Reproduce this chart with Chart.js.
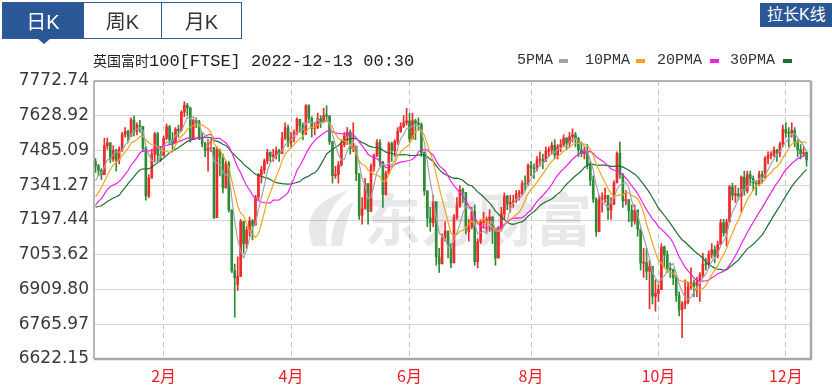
<!DOCTYPE html>
<html>
<head>
<meta charset="utf-8">
<script src="https://cdn.jsdelivr.net/npm/chart.js@4/dist/chart.umd.min.js"></script>
<style>
body { margin: 0; background: #fff; }
#wrap { position: relative; width: 832px; height: 392px; overflow: hidden; background: #fff; }
#c { position: absolute; left: 0; top: 0; }
.tabs { position: absolute; left: 2px; top: 2px; width: 240px; height: 37px; box-sizing: border-box;
  border: 1px solid #2f5b9e; display: flex; font: 20px "Liberation Sans", "Noto Sans CJK SC", sans-serif; }
.tab { display: flex; align-items: center; justify-content: center; color: #333; box-sizing: border-box; }
.tab.on { background: #2b5797; color: #fff; }
.tab + .tab { border-left: 1px solid #2f5b9e; }
.arrow { position: absolute; left: 37px; top: 38px; width: 0; height: 0;
  border-left: 7px solid transparent; border-right: 7px solid transparent; border-top: 6px solid #2b5797; }
.stretch { position: absolute; left: 760px; top: 3px; width: 80px; height: 24px; background: #2b5797; color: #fff;
  font: 16px "Liberation Sans", "Noto Sans CJK SC", sans-serif; line-height: 24px; padding-left: 7px; box-sizing: border-box; }
.title { position: absolute; left: 93px; top: 50px; line-height: 20px; color: #222; white-space: nowrap; }
.title .cn { font: 14px "Noto Sans CJK SC", sans-serif; }
.title .en { font: 17px "Liberation Mono", monospace; }
.lg { position: absolute; top: 52px; font: 15px "Liberation Mono", monospace; color: #333; line-height: 18px; white-space: nowrap; }
.sw { position: absolute; top: 59px; width: 9px; height: 4px; }
</style>
</head>
<body>
<div id="wrap">
  <canvas id="c" width="832" height="392"></canvas>
  <div class="tabs">
    <div class="tab on" style="width:80px">日K</div>
    <div class="tab" style="width:78px">周K</div>
    <div class="tab" style="width:80px">月K</div>
  </div>
  <div class="arrow"></div>
  <div class="stretch">拉长K线</div>
  <div class="title"><span class="cn">英国富时</span><span class="en">100[FTSE] 2022-12-13 00:30</span></div>
  <div id="legend"></div>
</div>
<script>
// trading days shown on the x axis (last slot has no candle yet)
const dates = [
  '2021-12-29','2021-12-30','2021-12-31',
  '2022-01-04','2022-01-05','2022-01-06','2022-01-07','2022-01-10','2022-01-11','2022-01-12','2022-01-13','2022-01-14','2022-01-17',
  '2022-01-18','2022-01-19','2022-01-20','2022-01-21','2022-01-24','2022-01-25','2022-01-26','2022-01-27','2022-01-28','2022-01-31',
  '2022-02-01','2022-02-02','2022-02-03','2022-02-04','2022-02-07','2022-02-08','2022-02-09','2022-02-10','2022-02-11','2022-02-14',
  '2022-02-15','2022-02-16','2022-02-17','2022-02-18','2022-02-21','2022-02-22','2022-02-23','2022-02-24','2022-02-25','2022-02-28',
  '2022-03-01','2022-03-02','2022-03-03','2022-03-04','2022-03-07','2022-03-08','2022-03-09','2022-03-10','2022-03-11','2022-03-14',
  '2022-03-15','2022-03-16','2022-03-17','2022-03-18','2022-03-21','2022-03-22','2022-03-23','2022-03-24','2022-03-25','2022-03-28',
  '2022-03-29','2022-03-30','2022-03-31',
  '2022-04-01','2022-04-04','2022-04-05','2022-04-06','2022-04-07','2022-04-08','2022-04-11','2022-04-12','2022-04-13','2022-04-14',
  '2022-04-19','2022-04-20','2022-04-21','2022-04-22','2022-04-25','2022-04-26','2022-04-27','2022-04-28','2022-04-29',
  '2022-05-03','2022-05-04','2022-05-05','2022-05-06','2022-05-09','2022-05-10','2022-05-11','2022-05-12','2022-05-13','2022-05-16',
  '2022-05-17','2022-05-18','2022-05-19','2022-05-20','2022-05-23','2022-05-24','2022-05-25','2022-05-26','2022-05-27','2022-05-30','2022-05-31',
  '2022-06-01','2022-06-06','2022-06-07','2022-06-08','2022-06-09','2022-06-10','2022-06-13','2022-06-14','2022-06-15','2022-06-16',
  '2022-06-17','2022-06-20','2022-06-21','2022-06-22','2022-06-23','2022-06-24','2022-06-27','2022-06-28','2022-06-29','2022-06-30',
  '2022-07-01','2022-07-04','2022-07-05','2022-07-06','2022-07-07','2022-07-08','2022-07-11','2022-07-12','2022-07-13','2022-07-14',
  '2022-07-15','2022-07-18','2022-07-19','2022-07-20','2022-07-21','2022-07-22','2022-07-25','2022-07-26','2022-07-27','2022-07-28','2022-07-29',
  '2022-08-01','2022-08-02','2022-08-03','2022-08-04','2022-08-05','2022-08-08','2022-08-09','2022-08-10','2022-08-11','2022-08-12',
  '2022-08-15','2022-08-16','2022-08-17','2022-08-18','2022-08-19','2022-08-22','2022-08-23','2022-08-24','2022-08-25','2022-08-26',
  '2022-08-30','2022-08-31',
  '2022-09-01','2022-09-02','2022-09-05','2022-09-06','2022-09-07','2022-09-08','2022-09-09','2022-09-12','2022-09-13','2022-09-14',
  '2022-09-15','2022-09-16','2022-09-20','2022-09-21','2022-09-22','2022-09-23','2022-09-26','2022-09-27','2022-09-28','2022-09-29','2022-09-30',
  '2022-10-03','2022-10-04','2022-10-05','2022-10-06','2022-10-07','2022-10-10','2022-10-11','2022-10-12','2022-10-13','2022-10-14',
  '2022-10-17','2022-10-18','2022-10-19','2022-10-20','2022-10-21','2022-10-24','2022-10-25','2022-10-26','2022-10-27','2022-10-28','2022-10-31',
  '2022-11-01','2022-11-02','2022-11-03','2022-11-04','2022-11-07','2022-11-08','2022-11-09','2022-11-10','2022-11-11','2022-11-14',
  '2022-11-15','2022-11-16','2022-11-17','2022-11-18','2022-11-21','2022-11-22','2022-11-23','2022-11-24','2022-11-25','2022-11-28',
  '2022-11-29','2022-11-30',
  '2022-12-01','2022-12-02','2022-12-05','2022-12-06','2022-12-07','2022-12-08','2022-12-09','2022-12-12','2022-12-13'
];

const open = [
  7440, 7421, 7403,
  7385, 7505, 7517, 7450, 7485, 7445, 7491, 7552, 7564, 7543, 7611, 7564, 7590, 7585, 7494, 7297, 7371, 7470, 7554, 7466,
  7464, 7536, 7583, 7529, 7516, 7573, 7567, 7643, 7672, 7661, 7532, 7609, 7604, 7537, 7514, 7484, 7494, 7498, 7207, 7489,
  7458, 7330, 7430, 7239, 6987, 6930, 6964, 7191, 7099, 7156, 7193, 7176, 7292, 7385, 7405, 7442, 7477, 7461, 7467, 7483, 7473, 7537, 7579,
  7516, 7538, 7559, 7614, 7588, 7552, 7670, 7618, 7577, 7581, 7616, 7601, 7629, 7628, 7522, 7381, 7386, 7426, 7509,
  7545, 7561, 7493, 7503, 7388, 7217, 7243, 7348, 7233, 7418, 7465, 7518, 7438, 7303, 7390, 7513, 7484, 7523, 7565, 7585, 7600,
  7608, 7533, 7608, 7599, 7593, 7476, 7318, 7206, 7187, 7273, 7045, 7016, 7122, 7152, 7089, 7020, 7209, 7258, 7323, 7312,
  7150, 7169, 7233, 7025, 7108, 7189, 7196, 7197, 7210, 7156, 7040, 7159, 7223, 7296, 7264, 7271, 7276, 7306, 7306, 7348, 7345,
  7423, 7413, 7409, 7446, 7448, 7440, 7482, 7488, 7507, 7466, 7501, 7509, 7536, 7516, 7542, 7550, 7534, 7488, 7472, 7480, 7427, 7362,
  7284, 7149, 7281, 7287, 7300, 7238, 7262, 7351, 7473, 7386, 7277, 7282, 7237, 7193, 7238, 7160, 7019, 7021, 6985, 7005, 6882,
  6894, 6909, 7086, 7053, 6997, 6991, 6959, 6885, 6826, 6850, 6859, 6920, 6937, 6925, 6944, 6970, 7014, 7013, 7056, 7074, 7048,
  7095, 7186, 7144, 7189, 7335, 7300, 7306, 7296, 7375, 7318, 7385, 7369, 7351, 7347, 7386, 7377, 7453, 7465, 7467, 7487, 7474, 7512,
  7573, 7558, 7556, 7568, 7521, 7489, 7472, 7477
];
const high = [
  7452, 7428, 7410,
  7536, 7537, 7517, 7505, 7490, 7500, 7560, 7580, 7570, 7620, 7628, 7600, 7610, 7585, 7500, 7385, 7490, 7560, 7560, 7500,
  7545, 7595, 7590, 7560, 7580, 7590, 7650, 7687, 7680, 7665, 7615, 7620, 7610, 7560, 7520, 7530, 7530, 7498, 7500, 7490,
  7470, 7440, 7440, 7240, 7015, 7045, 7200, 7191, 7170, 7210, 7200, 7300, 7390, 7420, 7450, 7490, 7480, 7490, 7500, 7490, 7560, 7600, 7590,
  7560, 7570, 7620, 7614, 7600, 7675, 7675, 7625, 7600, 7640, 7630, 7660, 7670, 7630, 7522, 7420, 7440, 7530, 7560,
  7580, 7570, 7600, 7503, 7390, 7290, 7370, 7348, 7430, 7470, 7530, 7530, 7440, 7400, 7520, 7520, 7530, 7580, 7600, 7630, 7660,
  7640, 7640, 7615, 7620, 7600, 7480, 7318, 7250, 7300, 7273, 7080, 7140, 7190, 7152, 7100, 7220, 7290, 7340, 7330, 7312,
  7200, 7250, 7260, 7120, 7200, 7230, 7210, 7240, 7210, 7160, 7170, 7250, 7310, 7300, 7300, 7300, 7320, 7320, 7360, 7380, 7430,
  7440, 7430, 7460, 7480, 7470, 7500, 7500, 7520, 7530, 7510, 7530, 7550, 7540, 7560, 7575, 7560, 7540, 7520, 7500, 7510, 7440, 7380,
  7290, 7300, 7310, 7330, 7300, 7290, 7360, 7480, 7520, 7390, 7320, 7282, 7260, 7260, 7240, 7160, 7080, 7080, 7030, 7005, 6950,
  6930, 7100, 7090, 7070, 7020, 6995, 6970, 6900, 6860, 6950, 6940, 7000, 6950, 6960, 6980, 7060, 7040, 7070, 7100, 7090, 7110,
  7200, 7200, 7200, 7340, 7350, 7340, 7330, 7380, 7400, 7400, 7400, 7380, 7360, 7400, 7400, 7460, 7480, 7480, 7500, 7490, 7520, 7590,
  7600, 7580, 7600, 7580, 7530, 7510, 7500, 7480
];
const low = [
  7395, 7380, 7365,
  7385, 7490, 7435, 7440, 7400, 7430, 7480, 7540, 7520, 7543, 7545, 7550, 7560, 7480, 7280, 7290, 7371, 7440, 7440, 7440,
  7464, 7530, 7510, 7490, 7516, 7540, 7567, 7625, 7630, 7520, 7532, 7580, 7530, 7500, 7460, 7400, 7480, 7203, 7207, 7380,
  7310, 7330, 7230, 6980, 6795, 6906, 6964, 7060, 7080, 7130, 7115, 7176, 7280, 7350, 7390, 7430, 7440, 7440, 7450, 7440, 7473, 7530, 7500,
  7500, 7520, 7550, 7560, 7530, 7552, 7600, 7540, 7550, 7575, 7580, 7600, 7610, 7510, 7350, 7370, 7350, 7420, 7500,
  7510, 7470, 7480, 7360, 7200, 7180, 7243, 7180, 7233, 7400, 7460, 7420, 7250, 7300, 7390, 7440, 7460, 7510, 7560, 7580, 7590,
  7520, 7533, 7530, 7570, 7460, 7300, 7170, 7150, 7170, 7010, 6980, 7016, 7110, 7040, 7000, 7020, 7200, 7250, 7270, 7140,
  7110, 7160, 7010, 7000, 7100, 7170, 7140, 7150, 7100, 7010, 7040, 7159, 7200, 7240, 7230, 7250, 7270, 7280, 7300, 7320, 7340,
  7380, 7370, 7400, 7420, 7410, 7440, 7460, 7470, 7450, 7450, 7480, 7500, 7490, 7500, 7520, 7500, 7460, 7460, 7450, 7410, 7340, 7270,
  7130, 7149, 7230, 7270, 7200, 7200, 7262, 7351, 7370, 7250, 7260, 7190, 7170, 7180, 7130, 6990, 6960, 6950, 6830, 6850, 6820,
  6860, 6909, 7000, 6980, 6960, 6930, 6860, 6800, 6710, 6830, 6850, 6910, 6880, 6880, 6860, 6960, 6990, 7000, 7040, 7020, 7040,
  7095, 7130, 7090, 7189, 7280, 7270, 7280, 7230, 7300, 7310, 7340, 7320, 7300, 7340, 7350, 7370, 7430, 7450, 7460, 7440, 7460, 7500,
  7540, 7500, 7540, 7500, 7460, 7450, 7460, 7420
];
const close = [
  7421, 7403, 7385,
  7505, 7517, 7450, 7485, 7445, 7491, 7552, 7564, 7543, 7611, 7564, 7590, 7585, 7494, 7297, 7371, 7470, 7554, 7466, 7464,
  7536, 7583, 7529, 7516, 7573, 7567, 7643, 7672, 7661, 7532, 7609, 7604, 7537, 7514, 7484, 7494, 7498, 7207, 7489, 7458,
  7330, 7430, 7239, 6987, 6959, 6964, 7191, 7099, 7156, 7193, 7176, 7292, 7385, 7405, 7442, 7477, 7461, 7467, 7483, 7473, 7537, 7579, 7516,
  7538, 7559, 7614, 7588, 7552, 7670, 7618, 7577, 7581, 7616, 7601, 7629, 7628, 7522, 7381, 7386, 7426, 7509, 7545,
  7561, 7493, 7503, 7388, 7217, 7243, 7348, 7233, 7418, 7465, 7518, 7438, 7303, 7390, 7513, 7484, 7523, 7565, 7585, 7600, 7608,
  7533, 7608, 7599, 7593, 7476, 7318, 7206, 7187, 7273, 7045, 7016, 7122, 7152, 7089, 7020, 7209, 7258, 7323, 7312, 7169,
  7169, 7233, 7025, 7108, 7189, 7196, 7197, 7210, 7156, 7040, 7159, 7223, 7296, 7264, 7271, 7276, 7306, 7306, 7348, 7345, 7423,
  7413, 7409, 7446, 7448, 7440, 7482, 7488, 7507, 7466, 7501, 7509, 7536, 7516, 7542, 7550, 7534, 7488, 7472, 7480, 7427, 7362, 7284,
  7149, 7281, 7287, 7300, 7238, 7262, 7351, 7473, 7386, 7277, 7282, 7237, 7193, 7238, 7160, 7019, 7021, 6985, 7005, 6882, 6894,
  6909, 7086, 7053, 6997, 6991, 6959, 6885, 6826, 6850, 6859, 6920, 6937, 6925, 6944, 6970, 7014, 7013, 7056, 7074, 7048, 7095,
  7186, 7144, 7189, 7335, 7300, 7306, 7296, 7375, 7318, 7385, 7369, 7351, 7347, 7386, 7377, 7453, 7465, 7467, 7487, 7474, 7512, 7573,
  7558, 7556, 7568, 7521, 7489, 7472, 7477, 7446
];
// closes before the first visible candle, only used so the averages start filled
const prevCloses = [
  7327, 7291, 7255, 7224, 7255, 7266, 7286, 7310, 7044, 7110, 7059, 7168, 7129, 7122, 7232,
  7340, 7338, 7321, 7292, 7231, 7219, 7171, 7260, 7270, 7198, 7297, 7341, 7373, 7372
];

const yTicks = [6622.15, 6765.97, 6909.80, 7053.62, 7197.44, 7341.27, 7485.09, 7628.92, 7772.74];
const monthTickDates = ['2022-02-01', '2022-04-01', '2022-06-01', '2022-08-01', '2022-10-03', '2022-12-01'];
const monthTickLabels = ['2月', '4月', '6月', '8月', '10月', '12月'];

const maPeriods = [5, 10, 20, 30];
const maNames = ['5PMA', '10PMA', '20PMA', '30PMA'];
const maColors = ['#a3a3a3', '#f2a41c', '#f01ef0', '#1f6e30'];
const upColor = '#f02a2a';
const downColor = '#2e8b38';

function movingAverage(n) {
  const all = prevCloses.concat(close);
  const off = prevCloses.length;
  return close.map((c, i) => {
    let s = 0;
    for (let k = off + i - n + 1; k <= off + i; k++) s += all[k];
    return s / n;
  });
}

const candleColors = close.map((c, i) => c >= open[i] ? upColor : downColor);
const monthTickIdx = monthTickDates.map(d => dates.indexOf(d));

// legend above the plot
const legendPos = [517, 585, 657, 730];
const swatchPos = [559, 636, 710, 783];
const lg = document.getElementById('legend');
maNames.forEach((n, i) => {
  const t = document.createElement('div');
  t.className = 'lg'; t.style.left = legendPos[i] + 'px'; t.textContent = n;
  lg.appendChild(t);
  const s = document.createElement('div');
  s.className = 'sw'; s.style.left = swatchPos[i] + 'px'; s.style.background = maColors[i];
  lg.appendChild(s);
});

const decor = {
  id: 'decor',
  beforeDatasetsDraw(chart) {
    const ctx = chart.ctx;
    ctx.save();
    ctx.fillStyle = 'rgba(0,0,0,0.09)';
    // watermark logo
    ctx.beginPath();
    ctx.moveTo(313, 246);
    ctx.quadraticCurveTo(296, 206, 349, 190);
    ctx.quadraticCurveTo(320, 212, 327, 246);
    ctx.closePath();
    ctx.fill();
    ctx.beginPath();
    ctx.moveTo(331, 246);
    ctx.quadraticCurveTo(331, 214, 354, 201);
    ctx.quadraticCurveTo(344, 226, 342, 246);
    ctx.closePath();
    ctx.fill();
    ctx.font = 'bold 57px "Noto Sans CJK SC"';
    ctx.textBaseline = 'middle';
    ctx.fillText('东方财富', 364, 219);
    ctx.restore();
  },
  afterDraw(chart) {
    const { ctx, chartArea: a } = chart;
    ctx.save();
    ctx.strokeStyle = '#a0a0a0';
    ctx.lineWidth = 1.5;
    ctx.beginPath();
    ctx.moveTo(a.left, a.top); ctx.lineTo(a.right, a.top);
    ctx.moveTo(a.left, a.top); ctx.lineTo(a.left, a.bottom);
    ctx.stroke();
    ctx.lineWidth = 2.5;
    ctx.strokeStyle = '#a8a8a8';
    ctx.beginPath();
    ctx.moveTo(a.right, a.top); ctx.lineTo(a.right, a.bottom);
    ctx.moveTo(a.left, a.bottom); ctx.lineTo(a.right + 1, a.bottom);
    ctx.stroke();
    ctx.restore();
  }
};

const maSets = maPeriods.map((p, i) => ({
  type: 'line',
  label: maNames[i],
  data: movingAverage(p),
  borderColor: maColors[i],
  borderWidth: 1.2,
  pointRadius: 0,
  tension: 0,
  order: 0
}));

new Chart(document.getElementById('c'), {
  type: 'bar',
  data: {
    labels: dates,
    datasets: [
      {
        label: 'wick',
        data: low.map((l, i) => [l, high[i]]),
        backgroundColor: candleColors,
        barThickness: 1,
        grouped: false,
        order: 3
      },
      {
        label: 'body',
        data: open.map((o, i) => [o, close[i]]),
        backgroundColor: candleColors,
        barThickness: 2,
        minBarLength: 1,
        grouped: false,
        order: 2
      }
    ].concat(maSets)
  },
  options: {
    responsive: false,
    animation: false,
    devicePixelRatio: 1,
    events: [],
    layout: { padding: { top: 81, right: 21, bottom: 0, left: 0 } },
    plugins: { legend: { display: false }, tooltip: { enabled: false } },
    scales: {
      x: {
        offset: true,
        afterBuildTicks: s => { s.ticks = monthTickIdx.map(v => ({ value: v })); },
        afterFit: s => { s.height = 33; },
        grid: { color: '#c4c4c4', offset: false, drawTicks: false },
        border: { display: false, dash: [5, 4] },
        ticks: {
          autoSkip: false, maxRotation: 0, padding: 7,
          color: '#ee1c25',
          font: { family: '"Noto Sans CJK SC"', size: 16 },
          callback: v => monthTickLabels[monthTickIdx.indexOf(v)]
        }
      },
      y: {
        min: 6622.15,
        max: 7772.74,
        afterBuildTicks: s => { s.ticks = yTicks.map(v => ({ value: v })); },
        afterFit: s => { s.width = 94; },
        grid: { color: '#d6d6d6', drawTicks: false },
        border: { display: false },
        ticks: {
          padding: 5,
          color: '#3a3a3a',
          font: { family: '"DejaVu Sans"', size: 17 },
          callback: v => v.toFixed(2)
        }
      }
    }
  },
  plugins: [decor]
});
</script>
</body>
</html>
